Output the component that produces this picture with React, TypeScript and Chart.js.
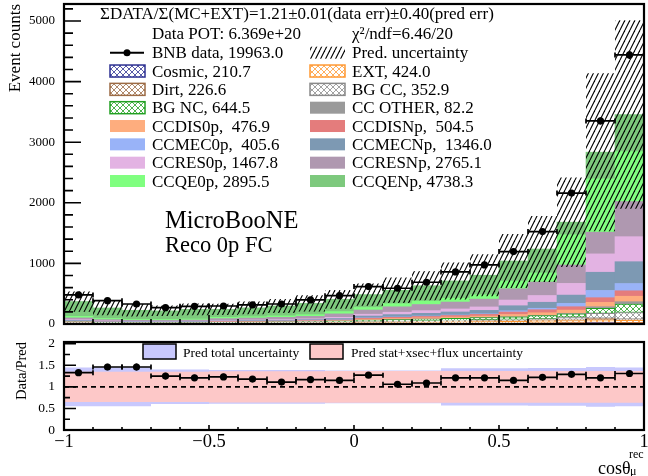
import React, { useEffect, useRef } from "react";
import { Chart, registerables } from "chart.js";

Chart.register(...registerables);

// ---------------- data ----------------
const binLowEdges = [-1.0, -0.9, -0.8, -0.7, -0.6, -0.5, -0.4, -0.3, -0.2, -0.1, 0.0, 0.1, 0.2, 0.3, 0.4, 0.5, 0.6, 0.7, 0.8, 0.9];
const binWidth = 0.1;

const dataCounts = [479, 385, 330, 270, 292, 297, 314, 330, 397, 468, 617, 590, 689, 860, 975, 1195, 1525, 2160, 3350, 4440];
const ratioValues = [1.33, 1.46, 1.46, 1.25, 1.21, 1.23, 1.18, 1.11, 1.17, 1.15, 1.27, 1.06, 1.09, 1.21, 1.21, 1.15, 1.22, 1.29, 1.21, 1.31];
const predTotalRelErr = [0.45, 0.45, 0.45, 0.40, 0.40, 0.39, 0.39, 0.39, 0.39, 0.38, 0.38, 0.38, 0.38, 0.43, 0.43, 0.43, 0.44, 0.44, 0.46, 0.45];
const predStatXsecFluxRelErr = [0.35, 0.35, 0.35, 0.35, 0.35, 0.36, 0.36, 0.36, 0.36, 0.37, 0.37, 0.37, 0.37, 0.37, 0.37, 0.37, 0.37, 0.37, 0.37, 0.37];

const cosmic = [5.6, 4.0, 3.4, 3.2, 3.6, 3.6, 4.0, 4.5, 5.1, 6.1, 7.3, 8.4, 9.5, 10.7, 12.1, 12.5, 14.8, 18, 25, 20];
const ext = [11.1, 7.9, 6.8, 6.5, 7.2, 8.4, 9.3, 10.4, 11.9, 14.2, 17.0, 19.5, 22.1, 24.9, 28.2, 31.2, 37.1, 40, 45, 40];
const dirt = [5.6, 4.0, 3.4, 3.2, 3.6, 4.8, 5.3, 5.9, 6.8, 8.1, 9.7, 11.1, 12.6, 14.2, 16.1, 15.6, 18.6, 20, 25, 20];
const bgCC = [3.7, 2.6, 2.3, 2.2, 2.4, 2.4, 2.7, 3.0, 3.4, 4.1, 7.3, 8.4, 9.5, 10.7, 12.1, 15.6, 18.6, 35, 80, 110];
const bgNC = [11.1, 7.9, 6.8, 6.5, 7.2, 9.6, 10.6, 11.9, 13.6, 16.3, 21.9, 25.1, 28.4, 32.0, 36.3, 41.6, 49.5, 55, 85, 140];
const ccOther = [0.7, 0.5, 0.5, 0.4, 0.5, 0.5, 0.5, 0.6, 0.7, 0.8, 1.0, 1.1, 1.3, 1.4, 1.6, 3.1, 3.7, 7, 25, 38];
const ccDIS0p = [3.7, 2.6, 2.3, 2.2, 2.4, 4.8, 5.3, 5.9, 6.8, 8.1, 14.6, 16.7, 19.0, 21.3, 24.2, 36.4, 43.3, 55, 72, 90];
const ccDISNp = [3.7, 2.6, 2.3, 2.2, 2.4, 4.8, 5.3, 5.9, 6.8, 8.1, 17.0, 19.5, 22.1, 24.9, 28.2, 41.6, 49.5, 55, 77, 90];
const ccMEC0p = [3.7, 2.6, 2.3, 2.2, 2.4, 2.4, 2.7, 3.0, 3.4, 4.1, 5.8, 6.7, 7.6, 8.5, 9.7, 20.8, 24.7, 55, 120, 120];
const ccMECNp = [11.1, 7.9, 6.8, 6.5, 7.2, 9.6, 10.6, 11.9, 13.6, 20.3, 30.0, 39.0, 44.2, 49.8, 56.4, 83.1, 99.0, 137, 300, 360];
const ccRES0p = [11.1, 7.9, 6.8, 6.5, 7.2, 9.6, 10.6, 11.9, 13.6, 20.3, 30.0, 39.0, 44.2, 49.8, 56.4, 93.5, 111.3, 193, 303, 413];
const ccRESNp = [29.6, 21.1, 18.1, 17.3, 19.3, 28.9, 31.9, 35.6, 40.7, 56.8, 69.8, 89.1, 101.1, 113.8, 129.0, 187.0, 222.7, 303, 358, 578];
const ccQE0p = [25.9, 18.5, 15.8, 15.1, 16.9, 19.3, 21.3, 23.8, 27.1, 37.0, 40.3, 50.1, 56.9, 64.0, 72.5, 124.7, 148.4, 500, 880, 826];
const ccQENp = [244.2, 174.2, 149.2, 142.6, 159.1, 132.6, 146.3, 163.4, 186.5, 203.5, 213.8, 222.8, 252.8, 284.4, 322.4, 332.5, 395.8, 207, 440, 611];

const componentNames = ["Cosmic", "EXT", "Dirt", "BG CC", "BG NC", "CC OTHER", "CCDIS0p", "CCDISNp", "CCMEC0p", "CCMECNp", "CCRES0p", "CCRESNp", "CCQE0p", "CCQENp"];
const componentLegend = ["Cosmic, 210.7", "EXT, 424.0", "Dirt, 226.6", "BG CC, 352.9", "BG NC, 644.5", "CC OTHER, 82.2", "CCDIS0p,  476.9", "CCDISNp,  504.5", "CCMEC0p,  405.6", "CCMECNp,  1346.0", "CCRES0p, 1467.8", "CCRESNp, 2765.1", "CCQE0p, 2895.5", "CCQENp, 4738.3"];
const componentValues = [cosmic, ext, dirt, bgCC, bgNC, ccOther, ccDIS0p, ccDISNp, ccMEC0p, ccMECNp, ccRES0p, ccRESNp, ccQE0p, ccQENp];

const dataLegend = "BNB data, 19963.0";
const uncLegend = "Pred. uncertainty";
const titleLine1 = "ΣDATA/Σ(MC+EXT)=1.21±0.01(data err)±0.40(pred err)";
const titleLine2a = "Data POT: 6.369e+20";
const titleLine2b = "χ²/ndf=6.46/20";
const expLabel = "MicroBooNE";
const selLabel = "Reco 0p FC";

const yTicksTop = [0, 1000, 2000, 3000, 4000, 5000];
const yTicksRatio = [0, 0.5, 1, 1.5, 2];
const yTickLabelsRatio = ["0", "0.5", "1", "1.5", "2"];
const xTicks = [-1, -0.5, 0, 0.5, 1];
const xTickLabels = ["\u22121", "\u22120.5", "0", "0.5", "1"];
const refLine = [1, 1];

// ---------------- styles ----------------
const FONT = "'Liberation Serif', 'DejaVu Serif', serif";
const compColor = ["#2e3192", "#ff9933", "#9c6b45", "#8a8a8a", "#22a022", "#9a9a9a", "#fead7e", "#e47c7c", "#99b3f8", "#7d99b3", "#e3b3e3", "#af98b0", "#80ff80", "#7dc97d"];
const compHatched = [true, true, true, true, true, false, false, false, false, false, false, false, false, false];
const blueBand = "#c8c8fd";
const pinkBand = "#fdc8c8";

function makePattern(kind: "unc" | "cross", color: string): CanvasPattern {
  const c = document.createElement("canvas");
  const g = c.getContext("2d")!;
  if (kind === "unc") {
    const w = 5, h = 10;
    c.width = w; c.height = h;
    g.strokeStyle = color; g.lineWidth = 1.1;
    for (const dx of [-w, 0, w]) {
      g.beginPath(); g.moveTo(dx, h); g.lineTo(dx + w, 0); g.stroke();
    }
  } else {
    const s = 6;
    c.width = s; c.height = s;
    g.fillStyle = "#ffffff"; g.fillRect(0, 0, s, s);
    g.strokeStyle = color; g.lineWidth = 0.8;
    for (const d of [-s, 0, s]) {
      g.beginPath(); g.moveTo(d, s); g.lineTo(d + s, 0); g.stroke();
      g.beginPath(); g.moveTo(d, 0); g.lineTo(d + s, s); g.stroke();
    }
  }
  return g.createPattern(c, "repeat") as CanvasPattern;
}

const binCenters = binLowEdges.map((e) => e + binWidth / 2);
const stepPoints = (vals: number[]) => [
  ...binLowEdges.map((e, i) => ({ x: e, y: vals[i] })),
  { x: binLowEdges[binLowEdges.length - 1] + binWidth, y: vals[vals.length - 1] },
];

function drawErrorBars(chart: any, values: number[], errs: number[]) {
  const { ctx, scales } = chart;
  const xs = scales.x, ys = scales.y;
  ctx.save();
  ctx.strokeStyle = "#000";
  ctx.lineWidth = 1.7;
  values.forEach((v, i) => {
    const x0 = xs.getPixelForValue(binLowEdges[i]);
    const x1 = xs.getPixelForValue(binLowEdges[i] + binWidth);
    const cy = ys.getPixelForValue(v);
    const yl = ys.getPixelForValue(v - errs[i]);
    const yh = ys.getPixelForValue(v + errs[i]);
    ctx.beginPath();
    ctx.moveTo(x0, cy); ctx.lineTo(x1, cy);
    ctx.moveTo(x0, cy - 2.5); ctx.lineTo(x0, cy + 2.5);
    ctx.moveTo(x1, cy - 2.5); ctx.lineTo(x1, cy + 2.5);
    const cx = xs.getPixelForValue(binCenters[i]);
    ctx.moveTo(cx, yl); ctx.lineTo(cx, yh);
    ctx.stroke();
  });
  ctx.restore();
}

function drawFrameAndTicks(chart: any, yMinorStep: number, yMajorEvery: number, yMax: number, yLen: [number, number], xLen: [number, number]) {
  const { ctx, chartArea: a, scales } = chart;
  ctx.save();
  ctx.strokeStyle = "#000";
  ctx.lineWidth = 1.6;
  ctx.beginPath();
  for (let k = 0; k * yMinorStep <= yMax + 1e-9; k++) {
    const py = scales.y.getPixelForValue(k * yMinorStep);
    const len = k % yMajorEvery === 0 ? yLen[0] : yLen[1];
    ctx.moveTo(a.left, py); ctx.lineTo(a.left + len, py);
  }
  for (let k = 0; k <= 20; k++) {
    const px = scales.x.getPixelForValue(-1 + k * 0.1);
    const len = k % 5 === 0 ? xLen[0] : xLen[1];
    ctx.moveTo(px, a.bottom); ctx.lineTo(px, a.bottom - len);
  }
  ctx.stroke();
  ctx.lineWidth = 2.2;
  ctx.strokeRect(a.left, a.top, a.right - a.left, a.bottom - a.top);
  ctx.restore();
}

const fitY = (s: any) => { s.width = 64; s.paddingTop = 0; s.paddingBottom = 0; };

function buildTop(canvas: HTMLCanvasElement, uncPat: CanvasPattern, compPats: (CanvasPattern | null)[]) {
  const totals = binLowEdges.map((_, i) => componentValues.reduce((s, arr) => s + arr[i], 0));
  const upper = totals.map((t, i) => t * (1 + predTotalRelErr[i]));
  const lower = totals.map((t, i) => t * (1 - predTotalRelErr[i]));

  const barSets = componentValues.map((vals, ci) => ({
    type: "bar" as const,
    label: componentNames[ci],
    data: binCenters.map((x, i) => ({ x, y: vals[i] })),
    backgroundColor: compHatched[ci] ? compPats[ci] : compColor[ci],
    borderColor: compColor[ci],
    borderWidth: compHatched[ci] ? 1 : 0,
    borderSkipped: false,
    barPercentage: 1,
    categoryPercentage: 1,
    stack: "mc",
  }));

  const decor = {
    id: "topDecor",
    afterDatasetsDraw(chart: any) {
      drawErrorBars(chart, dataCounts, dataCounts.map((n) => Math.sqrt(n)));
    },
    afterDraw(chart: any) {
      drawFrameAndTicks(chart, 200, 5, 5280, [17, 9], [9, 5]);
      const ctx = chart.ctx;
      ctx.save();
      ctx.fillStyle = "#000";
      ctx.textBaseline = "alphabetic";
      ctx.textAlign = "left";
      ctx.font = `17px ${FONT}`;
      ctx.fillText(titleLine1, 100, 18.5);
      ctx.fillText(titleLine2a, 152, 38.8);
      ctx.fillText(titleLine2b, 352, 38.8);
      // legend
      const entries: { label: string; kind: string; ci: number }[] = [
        { label: dataLegend, kind: "data", ci: -1 },
        { label: uncLegend, kind: "unc", ci: -1 },
        ...componentLegend.map((l, ci) => ({ label: l, kind: compHatched[ci] ? "hatch" : "solid", ci })),
      ];
      entries.forEach((e, i) => {
        const col = i % 2, row = Math.floor(i / 2);
        const cy = 52.7 + row * 18.33;
        const bx = col === 0 ? 110 : 310;
        const tx = col === 0 ? 152 : 352;
        if (e.kind === "data") {
          ctx.strokeStyle = "#000"; ctx.lineWidth = 2;
          ctx.beginPath(); ctx.moveTo(bx, cy); ctx.lineTo(bx + 34, cy); ctx.stroke();
          ctx.beginPath(); ctx.arc(bx + 17, cy, 3.5, 0, Math.PI * 2); ctx.fill();
        } else if (e.kind === "unc") {
          ctx.fillStyle = uncPat;
          ctx.fillRect(bx, cy - 6, 35, 12);
        } else if (e.kind === "hatch") {
          ctx.fillStyle = compPats[e.ci] as CanvasPattern;
          ctx.fillRect(bx, cy - 6, 35, 12);
          ctx.strokeStyle = compColor[e.ci]; ctx.lineWidth = 1.5;
          ctx.strokeRect(bx, cy - 6, 35, 12);
        } else {
          ctx.fillStyle = compColor[e.ci];
          ctx.fillRect(bx, cy - 6, 35, 12);
        }
        ctx.fillStyle = "#000";
        ctx.font = `17px ${FONT}`;
        ctx.fillText(e.label, tx, cy + 5.5);
      });
      ctx.font = `24.5px ${FONT}`;
      ctx.fillText(expLabel, 165, 228.3);
      ctx.font = `22.5px ${FONT}`;
      ctx.fillText(selLabel, 165, 252.3);
      // y title
      ctx.save();
      ctx.translate(20, 4);
      ctx.rotate(-Math.PI / 2);
      ctx.textAlign = "right";
      ctx.font = `17px ${FONT}`;
      ctx.fillText("Event counts", 0, 0);
      ctx.restore();
      ctx.restore();
    },
  };

  return new Chart(canvas, {
    type: "bar",
    data: {
      datasets: [
        {
          type: "line", label: "BNB data", data: binCenters.map((x, i) => ({ x, y: dataCounts[i] })),
          showLine: false, pointRadius: 3.6, pointBackgroundColor: "#000", pointBorderWidth: 0, stack: "s_data",
        } as any,
        {
          type: "line", label: "unc_up", data: stepPoints(upper), stepped: true, pointRadius: 0, borderWidth: 0,
          borderColor: "rgba(0,0,0,0)", fill: false, stack: "s_up",
        } as any,
        {
          type: "line", label: "unc_lo", data: stepPoints(lower), stepped: true, pointRadius: 0, borderWidth: 0,
          borderColor: "rgba(0,0,0,0)", backgroundColor: uncPat, fill: "-1", stack: "s_lo",
        } as any,
        ...(barSets as any[]),
      ],
    },
    options: {
      animation: false,
      responsive: false,
      layout: { padding: { top: 4, bottom: 10, left: 0, right: 0 } },
      plugins: { legend: { display: false }, tooltip: { enabled: false } },
      scales: {
        x: { type: "linear", min: -1, max: 1, offset: false, display: false, stacked: true },
        y: {
          type: "linear", min: 0, max: 5280, stacked: true,
          grid: { display: false, drawTicks: false },
          border: { display: false },
          afterBuildTicks: (s: any) => { s.ticks = yTicksTop.map((v) => ({ value: v })); },
          afterFit: fitY,
          ticks: { padding: 9, color: "#000", font: { family: FONT, size: 13 }, callback: (v: any) => String(v) },
        },
      },
    } as any,
    plugins: [decor],
  });
}

function buildRatio(canvas: HTMLCanvasElement) {
  const ratioErr = ratioValues.map((r, i) => r / Math.sqrt(dataCounts[i]));
  const decor = {
    id: "ratioDecor",
    afterDatasetsDraw(chart: any) {
      drawErrorBars(chart, ratioValues, ratioErr);
    },
    afterDraw(chart: any) {
      drawFrameAndTicks(chart, 0.25, 2, 2.04, [12, 6], [5, 3]);
      const ctx = chart.ctx;
      ctx.save();
      // legend
      ctx.lineWidth = 1.5; ctx.strokeStyle = "#000";
      ctx.fillStyle = blueBand; ctx.fillRect(143, 10, 33, 15); ctx.strokeRect(143, 10, 33, 15);
      ctx.fillStyle = pinkBand; ctx.fillRect(310, 10, 33, 15); ctx.strokeRect(310, 10, 33, 15);
      ctx.fillStyle = "#000";
      ctx.font = `13.5px ${FONT}`;
      ctx.textBaseline = "alphabetic";
      ctx.fillText("Pred total uncertainty", 183, 22.5);
      ctx.fillText("Pred stat+xsec+flux uncertainty", 351, 22.5);
      // y title
      ctx.save();
      ctx.translate(26, 8);
      ctx.rotate(-Math.PI / 2);
      ctx.textAlign = "right";
      ctx.font = `14.5px ${FONT}`;
      ctx.fillText("Data/Pred", 0, 0);
      ctx.restore();
      // x title
      ctx.font = `18px ${FONT}`;
      ctx.fillText("cosθ", 598, 140);
      ctx.font = `12px ${FONT}`;
      ctx.fillText("rec", 629, 124);
      ctx.fillText("μ", 630, 141);
      ctx.restore();
    },
  };

  return new Chart(canvas, {
    type: "line",
    data: {
      datasets: [
        { label: "ratio", data: binCenters.map((x, i) => ({ x, y: ratioValues[i] })), showLine: false, pointRadius: 3.6, pointBackgroundColor: "#000", pointBorderWidth: 0 },
        { label: "one", data: refLine.map((y, i) => ({ x: i === 0 ? -1 : 1, y })), borderColor: "#000", borderWidth: 1.6, borderDash: [5, 4], pointRadius: 0 },
        { label: "pink_up", data: stepPoints(predStatXsecFluxRelErr.map((e) => 1 + e)), stepped: true, pointRadius: 0, borderWidth: 0, borderColor: "rgba(0,0,0,0)", fill: false },
        { label: "pink_lo", data: stepPoints(predStatXsecFluxRelErr.map((e) => 1 - e)), stepped: true, pointRadius: 0, borderWidth: 0, borderColor: "rgba(0,0,0,0)", backgroundColor: pinkBand, fill: "-1" },
        { label: "blue_up", data: stepPoints(predTotalRelErr.map((e) => 1 + e)), stepped: true, pointRadius: 0, borderWidth: 0, borderColor: "rgba(0,0,0,0)", fill: false },
        { label: "blue_lo", data: stepPoints(predTotalRelErr.map((e) => 1 - e)), stepped: true, pointRadius: 0, borderWidth: 0, borderColor: "rgba(0,0,0,0)", backgroundColor: blueBand, fill: "-1" },
      ] as any,
    },
    options: {
      animation: false,
      responsive: false,
      layout: { padding: { top: 8, bottom: 0, left: 0, right: 0 } },
      plugins: { legend: { display: false }, tooltip: { enabled: false } },
      scales: {
        x: {
          type: "linear", min: -1, max: 1, offset: false,
          grid: { display: false, drawTicks: false },
          border: { display: false },
          afterBuildTicks: (s: any) => { s.ticks = xTicks.map((v) => ({ value: v })); },
          afterFit: (s: any) => { s.height = 46; s.paddingLeft = 0; s.paddingRight = 0; },
          ticks: {
            padding: 1.5, color: "#000", maxRotation: 0, autoSkip: false, font: { family: FONT, size: 18.5 },
            callback: (v: any) => { const k = xTicks.findIndex((t) => Math.abs(t - v) < 1e-6); return k >= 0 ? xTickLabels[k] : ""; },
          },
        },
        y: {
          type: "linear", min: 0, max: 2.04,
          grid: { display: false, drawTicks: false },
          border: { display: false },
          afterBuildTicks: (s: any) => { s.ticks = yTicksRatio.map((v) => ({ value: v })); },
          afterFit: fitY,
          ticks: {
            padding: 9, color: "#000", font: { family: FONT, size: 13.5 },
            callback: (v: any) => { const k = yTicksRatio.findIndex((t) => Math.abs(t - v) < 1e-6); return k >= 0 ? yTickLabelsRatio[k] : ""; },
          },
        },
      },
    } as any,
    plugins: [decor],
  });
}

export default function App() {
  const topRef = useRef<HTMLCanvasElement>(null);
  const ratioRef = useRef<HTMLCanvasElement>(null);
  useEffect(() => {
    const uncPat = makePattern("unc", "#000000");
    const compPats = compColor.map((c, i) => (compHatched[i] ? makePattern("cross", c) : null));
    const c1 = buildTop(topRef.current!, uncPat, compPats);
    const c2 = buildRatio(ratioRef.current!);
    return () => { c1.destroy(); c2.destroy(); };
  }, []);
  return (
    <div style={{ position: "absolute", left: 0, top: 0, width: 648, height: 476, background: "#fff", overflow: "hidden" }}>
      <canvas ref={topRef} width={648} height={334} style={{ position: "absolute", left: 0, top: 0, display: "block" }} />
      <canvas ref={ratioRef} width={648} height={142} style={{ position: "absolute", left: 0, top: 334, display: "block" }} />
    </div>
  );
}
